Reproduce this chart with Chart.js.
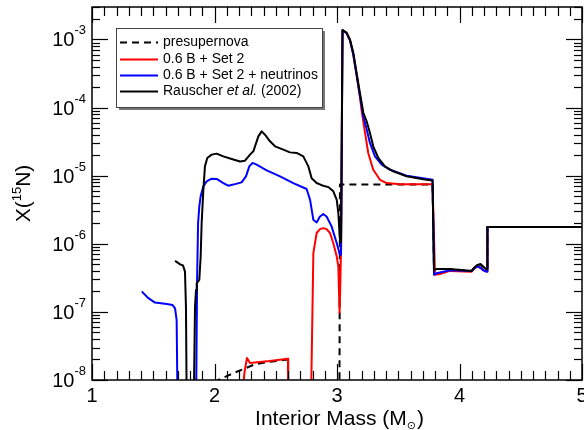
<!DOCTYPE html>
<html>
<head>
<meta charset="utf-8">
<script src="https://cdn.jsdelivr.net/npm/chart.js@4"></script>
<style>html,body{margin:0;padding:0;background:#fff;}canvas{display:block;}</style>
</head>
<body>
<canvas id="c" width="584" height="430"></canvas>
<script>
// ---- data: [interior mass (Msun), X(15N)] ; null = gap ----
const presupernova = [[2.02,8.5e-9],[2.03,1.0e-8],[2.15,1.25e-8],[2.33,1.7e-8],[2.45,1.85e-8],[2.6,2.0e-8],[2.601,5e-9],[3.02,5e-9],[3.024,7.4e-6],[3.78,7.4e-6],[3.792,4.15e-7],[3.814,4.25e-7],[3.922,4.25e-7],[4.099,4.0e-7],[4.118,4.4e-7],[4.145,4.9e-7],[4.172,5.0e-7],[4.193,4.6e-7],[4.216,4.25e-7],[4.227,4.25e-7],[4.228,1.76e-6],[5.0,1.76e-6]];

const set2 = [[2.222,5e-9],[2.245,1.3e-8],[2.265,2.1e-8],[2.29,1.78e-8],[2.45,1.9e-8],[2.600,2.05e-8],[2.602,5e-9],[2.7,null],[2.788,5e-9],[2.807,7.3e-7],[2.825,1.15e-6],[2.834,1.44e-6],[2.861,1.64e-6],[2.888,1.70e-6],[2.915,1.64e-6],[2.943,1.44e-6],[2.97,1.02e-6],[2.998,6.5e-7],[3.011,4.6e-7],[3.018,1.5e-7],[3.021,9.8e-8],[3.026,2.1e-7],[3.033,8.1e-7],[3.045,1.37e-3],[3.078,1.24e-3],[3.106,9.7e-4],[3.133,6.0e-4],[3.16,2.95e-4],[3.187,1.45e-4],[3.2,9.3e-5],[3.229,4.25e-5],[3.255,2.16e-5],[3.296,1.22e-5],[3.351,8.7e-6],[3.405,7.8e-6],[3.514,7.5e-6],[3.78,7.5e-6],[3.80,3.5e-7],[3.84,3.6e-7],[3.922,4.0e-7],[4.099,3.9e-7],[4.118,4.3e-7],[4.143,4.6e-7],[4.172,4.45e-7],[4.193,4.1e-7],[4.216,4.0e-7],[4.227,4.0e-7],[4.228,1.76e-6],[5.0,1.76e-6]];

const set2Neutrinos = [[1.406,2.0e-7],[1.46,1.59e-7],[1.514,1.37e-7],[1.61,1.31e-7],[1.658,1.26e-7],[1.678,1.13e-7],[1.691,7.6e-8],[1.698,5e-9],[1.75,null],[1.850,5e-9],[1.858,3e-7],[1.866,2.0e-6],[1.876,3.54e-6],[1.887,4.97e-6],[1.909,6.97e-6],[1.936,8.25e-6],[1.977,9.04e-6],[2.017,8.95e-6],[2.072,7.8e-6],[2.112,7.13e-6],[2.153,7.4e-6],[2.221,7.97e-6],[2.257,9.77e-6],[2.284,1.37e-5],[2.311,1.54e-5],[2.344,1.45e-5],[2.426,1.2e-5],[2.535,9.77e-6],[2.643,7.8e-6],[2.752,6.37e-6],[2.78,4.44e-6],[2.807,2.25e-6],[2.834,2.06e-6],[2.861,2.52e-6],[2.888,2.73e-6],[2.915,2.52e-6],[2.956,1.8e-6],[2.998,1.02e-6],[3.024,6.9e-7],[3.033,6.9e-7],[3.045,1.37e-3],[3.078,1.24e-3],[3.106,9.7e-4],[3.133,6.0e-4],[3.16,3.05e-4],[3.187,1.5e-4],[3.215,7.4e-5],[3.242,4.8e-5],[3.269,3.03e-5],[3.31,1.92e-5],[3.365,1.45e-5],[3.433,1.22e-5],[3.568,1.0e-5],[3.78,8.7e-6],[3.792,3.5e-7],[3.814,3.7e-7],[3.922,4.1e-7],[4.099,4.0e-7],[4.118,4.3e-7],[4.143,4.7e-7],[4.172,4.45e-7],[4.193,4.1e-7],[4.216,3.9e-7],[4.227,3.9e-7],[4.228,1.76e-6],[5.0,1.76e-6]];

const rauscher = [[1.678,5.6e-7],[1.72,5.0e-7],[1.743,4.8e-7],[1.759,3.9e-7],[1.767,1.2e-7],[1.773,5e-9],[1.80,null],[1.831,5e-9],[1.841,1.2e-7],[1.849,2.1e-7],[1.855,2.64e-7],[1.876,2.96e-7],[1.887,6.5e-7],[1.895,2.0e-6],[1.909,6.2e-6],[1.922,1.37e-5],[1.941,1.82e-5],[1.977,2.04e-5],[2.017,2.11e-5],[2.072,1.92e-5],[2.140,1.76e-5],[2.208,1.62e-5],[2.249,1.66e-5],[2.290,2.04e-5],[2.317,2.28e-5],[2.358,3.78e-5],[2.385,4.48e-5],[2.412,4.0e-5],[2.453,3.2e-5],[2.494,2.7e-5],[2.562,2.41e-5],[2.616,2.2e-5],[2.671,2.16e-5],[2.725,1.92e-5],[2.766,1.37e-5],[2.793,9.2e-6],[2.834,7.8e-6],[2.888,7.1e-6],[2.929,6.8e-6],[2.970,5.9e-6],[2.998,4.4e-6],[3.011,2.8e-6],[3.024,1.15e-6],[3.033,1.05e-6],[3.045,1.37e-3],[3.078,1.26e-3],[3.106,1.0e-3],[3.133,6.4e-4],[3.16,3.23e-4],[3.187,1.64e-4],[3.215,8.4e-5],[3.242,6.3e-5],[3.269,4.25e-5],[3.296,2.7e-5],[3.337,1.82e-5],[3.391,1.37e-5],[3.459,1.16e-5],[3.568,9.8e-6],[3.704,8.9e-6],[3.780,8.5e-6],[3.792,4.15e-7],[3.814,4.25e-7],[3.922,4.25e-7],[4.099,4.0e-7],[4.118,4.4e-7],[4.145,4.9e-7],[4.172,5.0e-7],[4.193,4.6e-7],[4.216,4.25e-7],[4.227,4.25e-7],[4.228,1.76e-6],[5.0,1.76e-6]];

const seriesLabels = ['presupernova', '0.6 B + Set 2', '0.6 B + Set 2 + neutrinos', 'Rauscher et al. (2002)'];
const xTickLabels = ['1', '2', '3', '4', '5'];
const yTickExponents = ['-8', '-7', '-6', '-5', '-4', '-3'];
const xRange = [1, 5];
const yRange = [1e-8, 3e-3];

const toXY = s => s.map(p => ({x: p[0], y: p[1]}));
const FONT = '"Liberation Sans", Arial, Helvetica, "DejaVu Sans", sans-serif';

function line(ctx, x1, y1, x2, y2) { ctx.beginPath(); ctx.moveTo(x1, y1); ctx.lineTo(x2, y2); ctx.stroke(); }

const frameTicks = {
  id: 'frameTicks',
  afterDatasetsDraw(chart) {
    const ctx = chart.ctx, a = chart.chartArea, xs = chart.scales.x, ys = chart.scales.y;
    ctx.save();
    ctx.strokeStyle = '#000';
    ctx.fillStyle = '#000';
    // ticks (inward, on all four sides)
    ctx.lineWidth = 1.2;
    for (let i = 10; i <= 50; i++) {
      const px = Math.round(xs.getPixelForValue(i / 10)) + 0.5;
      const len = (i % 10 === 0) ? 16 : 9;
      line(ctx, px, a.bottom, px, a.bottom - len);
      line(ctx, px, a.top, px, a.top + len);
    }
    for (let e = -8; e <= -3; e++) {
      for (let k = 1; k <= 9; k++) {
        const v = k * Math.pow(10, e);
        if (v > yRange[1] * 1.0001) break;
        const py = Math.round(ys.getPixelForValue(v)) + 0.5;
        const len = (k === 1) ? 16 : 8;
        line(ctx, a.left, py, a.left + len, py);
        line(ctx, a.right, py, a.right - len, py);
      }
    }
    // frame
    ctx.lineWidth = 1.5;
    ctx.strokeRect(a.left, a.top, a.right - a.left, a.bottom - a.top);

    // x tick labels
    ctx.font = '20px ' + FONT;
    ctx.textAlign = 'center';
    ctx.textBaseline = 'alphabetic';
    xTickLabels.forEach(t => ctx.fillText(t, xs.getPixelForValue(parseFloat(t)), 402));

    // y tick labels 10^n
    yTickExponents.forEach(ex => {
      const py = ys.getPixelForValue(Math.pow(10, parseFloat(ex)));
      ctx.font = '13px ' + FONT;
      const wSup = ctx.measureText(ex).width;
      ctx.font = '20px ' + FONT;
      const wBase = ctx.measureText('10').width;
      const right = 86;
      ctx.textAlign = 'left';
      ctx.fillText('10', right - wSup - wBase, py + 7);
      ctx.font = '13px ' + FONT;
      ctx.fillText(ex, right - wSup, py - 5);
    });

    // x axis title
    {
      const p1 = 'Interior Mass (M', sub = '\u2299', p2 = ')';
      ctx.font = '21px ' + FONT; const w1 = ctx.measureText(p1).width, w3 = ctx.measureText(p2).width;
      ctx.font = '11px ' + FONT; const w2 = ctx.measureText(sub).width;
      let x0 = 339 - (w1 + w2 + w3) / 2;
      ctx.textAlign = 'left';
      ctx.font = '21px ' + FONT; ctx.fillText(p1, x0, 425);
      ctx.font = '11px ' + FONT; ctx.fillText(sub, x0 + w1, 429);
      ctx.font = '21px ' + FONT; ctx.fillText(p2, x0 + w1 + w2 + 1, 425);
    }
    // y axis title
    {
      ctx.save();
      ctx.translate(22, (a.top + a.bottom) / 2);
      ctx.rotate(-Math.PI / 2);
      const p1 = 'X(', sup = '15', p2 = 'N)';
      ctx.font = '21px ' + FONT; const w1 = ctx.measureText(p1).width, w3 = ctx.measureText(p2).width;
      ctx.font = '13px ' + FONT; const w2 = ctx.measureText(sup).width;
      let x0 = -(w1 + w2 + w3) / 2;
      ctx.textAlign = 'left';
      ctx.font = '21px ' + FONT; ctx.fillText(p1, x0, 7.5);
      ctx.font = '13px ' + FONT; ctx.fillText(sup, x0 + w1, -1.5);
      ctx.font = '21px ' + FONT; ctx.fillText(p2, x0 + w1 + w2, 7.5);
      ctx.restore();
    }

    // legend
    {
      const bx = 116, by = 28, bw = 206, bh = 79;
      ctx.fillStyle = '#777';
      ctx.fillRect(bx + 3, by + 3, bw, bh);
      ctx.fillStyle = '#fff';
      ctx.fillRect(bx, by, bw, bh);
      ctx.strokeStyle = '#444';
      ctx.lineWidth = 1;
      ctx.strokeRect(bx + 0.5, by + 0.5, bw, bh);
      const rows = [42, 59, 75, 91];
      const ds = chart.data.datasets;
      ds.forEach((d, i) => {
        const yy = rows[i] + 0.5;
        ctx.strokeStyle = d.borderColor;
        ctx.lineWidth = 2;
        ctx.setLineDash(d.borderDash || []);
        line(ctx, 120, yy, 158, yy);
        ctx.setLineDash([]);
        ctx.fillStyle = '#000';
        ctx.textBaseline = 'middle';
        ctx.textAlign = 'left';
        if (i === 3) {
          let xx = 163;
          ctx.font = '14px ' + FONT; ctx.fillText('Rauscher ', xx, rows[i]); xx += ctx.measureText('Rauscher ').width;
          ctx.font = 'italic 14px ' + FONT; ctx.fillText('et al.', xx, rows[i]); xx += ctx.measureText('et al.').width;
          ctx.font = '14px ' + FONT; ctx.fillText(' (2002)', xx, rows[i]);
        } else {
          ctx.font = '14px ' + FONT;
          ctx.fillText(d.label, 163, rows[i]);
        }
      });
    }
    ctx.restore();
  }
};

new Chart(document.getElementById('c'), {
  type: 'line',
  data: {
    datasets: [
      {label: seriesLabels[0], data: toXY(presupernova), borderColor: '#000000', borderDash: [7, 5], borderWidth: 2, order: 4},
      {label: seriesLabels[1], data: toXY(set2), borderColor: '#ff0000', borderWidth: 2, order: 3},
      {label: seriesLabels[2], data: toXY(set2Neutrinos), borderColor: '#0000ff', borderWidth: 2, order: 2},
      {label: seriesLabels[3], data: toXY(rauscher), borderColor: '#000000', borderWidth: 2, order: 1}
    ]
  },
  options: {
    responsive: false,
    animation: false,
    spanGaps: false,
    layout: {padding: {left: 92, right: 2, top: 7, bottom: 50}},
    elements: {point: {radius: 0, hoverRadius: 0}, line: {tension: 0, borderJoinStyle: 'round', borderCapStyle: 'butt', fill: false}},
    plugins: {legend: {display: false}, tooltip: {enabled: false}},
    scales: {
      x: {type: 'linear', min: xRange[0], max: xRange[1], display: false},
      y: {type: 'logarithmic', min: yRange[0], max: yRange[1], display: false}
    }
  },
  plugins: [frameTicks]
});
</script>
</body>
</html>
